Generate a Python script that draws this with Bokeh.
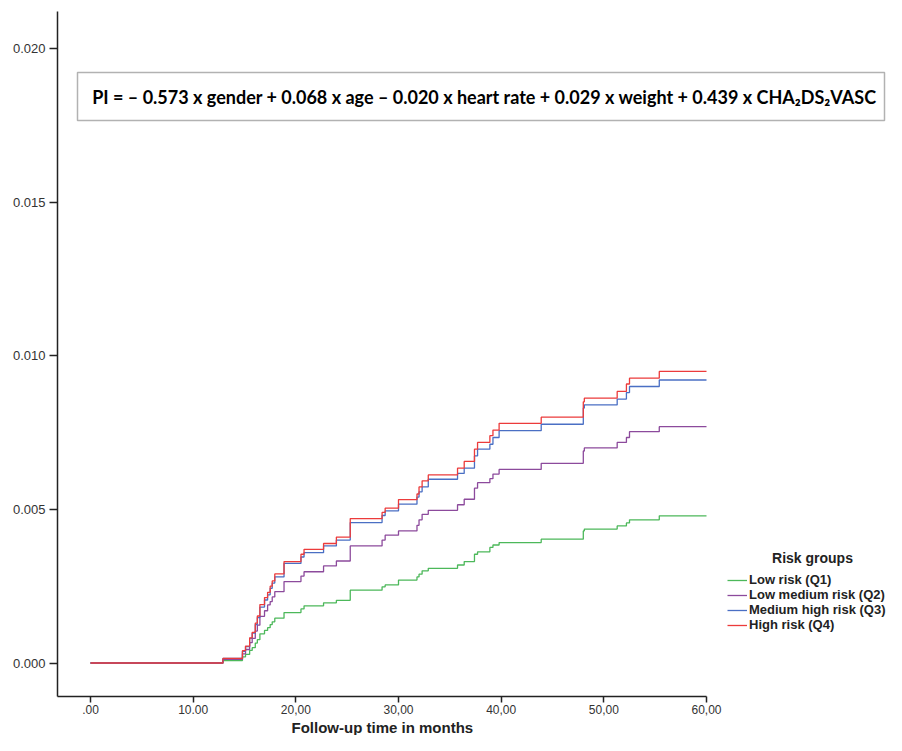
from bokeh.plotting import figure
from bokeh.models import Range1d, FixedTicker, Label, BoxAnnotation, Legend, LegendItem, Title
from bokeh.embed import file_html
from bokeh.resources import INLINE

# ---- data ----
months = [0, 12.9, 14.8, 15.1, 15.5, 15.75, 16.05, 16.25, 16.5, 16.95, 17.25, 17.5, 17.7,
          17.95, 18.85, 20.5, 20.8, 22.7, 23.95, 25.3, 28.4, 28.7, 30.0, 31.8, 32.0, 32.3,
          32.9, 35.75, 36.4, 37.4, 37.7, 38.9, 39.2, 39.8, 43.9, 48.0, 48.1, 51.3, 52.2,
          52.5, 55.4, 60.0]
low_risk_q1 = [0, 0.00008, 0.0002, 0.00028, 0.00041, 0.0005, 0.00065, 0.00076, 0.00095, 0.00106,
               0.00115, 0.00125, 0.00134, 0.00146, 0.00164, 0.00176, 0.00186, 0.00196, 0.00204,
               0.00237, 0.00248, 0.00254, 0.0027, 0.0028, 0.00289, 0.003, 0.00308, 0.00319,
               0.0033, 0.00354, 0.00362, 0.00376, 0.00384, 0.00392, 0.00403, 0.0043, 0.00436,
               0.00446, 0.00456, 0.00466, 0.00479, 0.00479]
low_medium_q2 = [0, 0.00012, 0.0003, 0.00044, 0.00066, 0.0008, 0.00104, 0.00123, 0.00152, 0.0017,
                 0.00189, 0.002, 0.00215, 0.00232, 0.00265, 0.00283, 0.00297, 0.00316, 0.00332,
                 0.00381, 0.004, 0.00416, 0.0043, 0.00448, 0.00466, 0.00484, 0.00497, 0.00515,
                 0.00533, 0.00569, 0.00587, 0.006, 0.00615, 0.0063, 0.0065, 0.0069, 0.007,
                 0.00718, 0.00734, 0.00753, 0.00769, 0.00769]
medium_high_q3 = [0, 0.00015, 0.00038, 0.00053, 0.0008, 0.00097, 0.00125, 0.00148, 0.00182, 0.00205,
                  0.00222, 0.00243, 0.0026, 0.0028, 0.00324, 0.00345, 0.00359, 0.00381, 0.004,
                  0.00457, 0.0048, 0.00495, 0.00517, 0.0054, 0.00557, 0.00573, 0.00598, 0.00617,
                  0.00634, 0.00674, 0.00696, 0.00712, 0.00734, 0.00756, 0.00777, 0.0083, 0.0084,
                  0.00859, 0.0088, 0.009, 0.00921, 0.00921]
high_risk_q4 = [0, 0.00015, 0.0004, 0.00055, 0.00082, 0.001, 0.0013, 0.00153, 0.0019, 0.00213,
                0.0023, 0.0025, 0.00267, 0.0029, 0.0033, 0.00354, 0.0037, 0.00389, 0.0041,
                0.0047, 0.0049, 0.00504, 0.00532, 0.0055, 0.00573, 0.00593, 0.00612, 0.00634,
                0.00656, 0.00696, 0.00718, 0.0074, 0.00758, 0.0078, 0.008, 0.0085, 0.00862,
                0.00884, 0.00908, 0.00927, 0.00949, 0.00949]

series_names = ["Low risk (Q1)", "Low medium risk (Q2)", "Medium high risk (Q3)", "High risk (Q4)"]
series_values = [low_risk_q1, low_medium_q2, medium_high_q3, high_risk_q4]
series_colors = ["#4cb85a", "#8c4a9c", "#4a6fc4", "#ec3b3b"]

x_ticks = [0, 10, 20, 30, 40, 50, 60]
x_tick_labels = [".00", "10.00", "20,00", "30,00", "40,00", "50,00", "60,00"]
y_ticks = [0, 0.005, 0.010, 0.015, 0.020]
y_tick_labels = ["0.000", "0.005", "0.010", "0.015", "0.020"]

formula = "PI = \u2013 0.573 x gender + 0.068 x age \u2013 0.020 x heart rate + 0.029 x weight + 0.439 x CHA\u2082DS\u2082VASC"
x_title = "Follow-up time in months"
legend_title = "Risk groups"

# ---- layout helpers (figure pixel -> data) ----
PX_PER_MONTH = 616 / 60.0
PX_PER_UNIT = 30725.0
def tx(px):
    return (px - 90) / PX_PER_MONTH
def vy(py):
    return (662.5 - py) / PX_PER_UNIT

W, H = 886, 735
p = figure(width=W, height=H, output_backend="svg", toolbar_location=None,
           x_range=Range1d(tx(57), tx(W)), y_range=Range1d(vy(696), vy(11)),
           min_border_left=57, min_border_right=0, min_border_top=11, min_border_bottom=H - 696)
p.outline_line_color = None
p.grid.visible = False
p.background_fill_color = "white"
p.border_fill_color = "white"

for ax in (p.xaxis[0], p.yaxis[0]):
    ax.axis_line_width = 1.5
    ax.axis_line_color = "#222222"
    ax.major_tick_line_color = "#222222"
    ax.major_tick_line_width = 1.5
    ax.major_tick_out = 8
    ax.major_tick_in = 0
    ax.minor_tick_line_color = None
    ax.major_label_text_font = "Liberation Sans"
    ax.major_label_text_font_size = "13px"
    ax.major_label_text_color = "#333333"

p.xaxis.bounds = (tx(57), 60)
p.xaxis.ticker = FixedTicker(ticks=x_ticks)
p.xaxis.major_label_overrides = {t: l for t, l in zip(x_ticks, x_tick_labels)}
p.xaxis.major_tick_out = 6
p.xaxis.major_label_standoff = 2
p.xaxis.major_label_text_font_size = "12px"
p.yaxis.ticker = FixedTicker(ticks=y_ticks)
p.yaxis.major_label_overrides = {t: l for t, l in zip(y_ticks, y_tick_labels)}
p.yaxis.major_label_standoff = 4

items = []
for name, vals, col in zip(series_names, series_values, series_colors):
    r = p.step(months, vals, mode="after", line_color=col, line_width=1.3)
    items.append(LegendItem(label=name, renderers=[r]))

legend = Legend(items=items, location=(670, 64), padding=0, margin=0, spacing=0,
                label_standoff=2, glyph_width=20, glyph_height=12, label_height=12,
                label_text_font="Liberation Sans", label_text_font_style="bold",
                label_text_font_size="13px", label_text_line_height=0.9,
                label_text_color="#222222",
                border_line_alpha=0, background_fill_alpha=0)
p.add_layout(legend)

p.add_layout(Label(x=tx(812), y=vy(557), text=legend_title, text_align="center",
                   text_baseline="middle", text_font="Liberation Sans", text_font_style="bold",
                   text_font_size="14px", text_color="#222222"))

p.add_layout(BoxAnnotation(left=tx(77), right=tx(884), top=vy(72), bottom=vy(120),
                           fill_alpha=0, line_color="black", line_width=1.5))
p.add_layout(Label(x=tx(484), y=vy(96), text=formula, text_align="center",
                   text_baseline="middle", text_font="Lato", text_font_style="bold",
                   text_font_size="18px", text_color="black"))

p.add_layout(Title(text=x_title, align="left", offset=234, standoff=0,
                   text_font="Liberation Sans", text_font_style="bold",
                   text_font_size="15px", text_color="#222222"), "below")

open("out.html", "w").write(file_html(p, INLINE))
